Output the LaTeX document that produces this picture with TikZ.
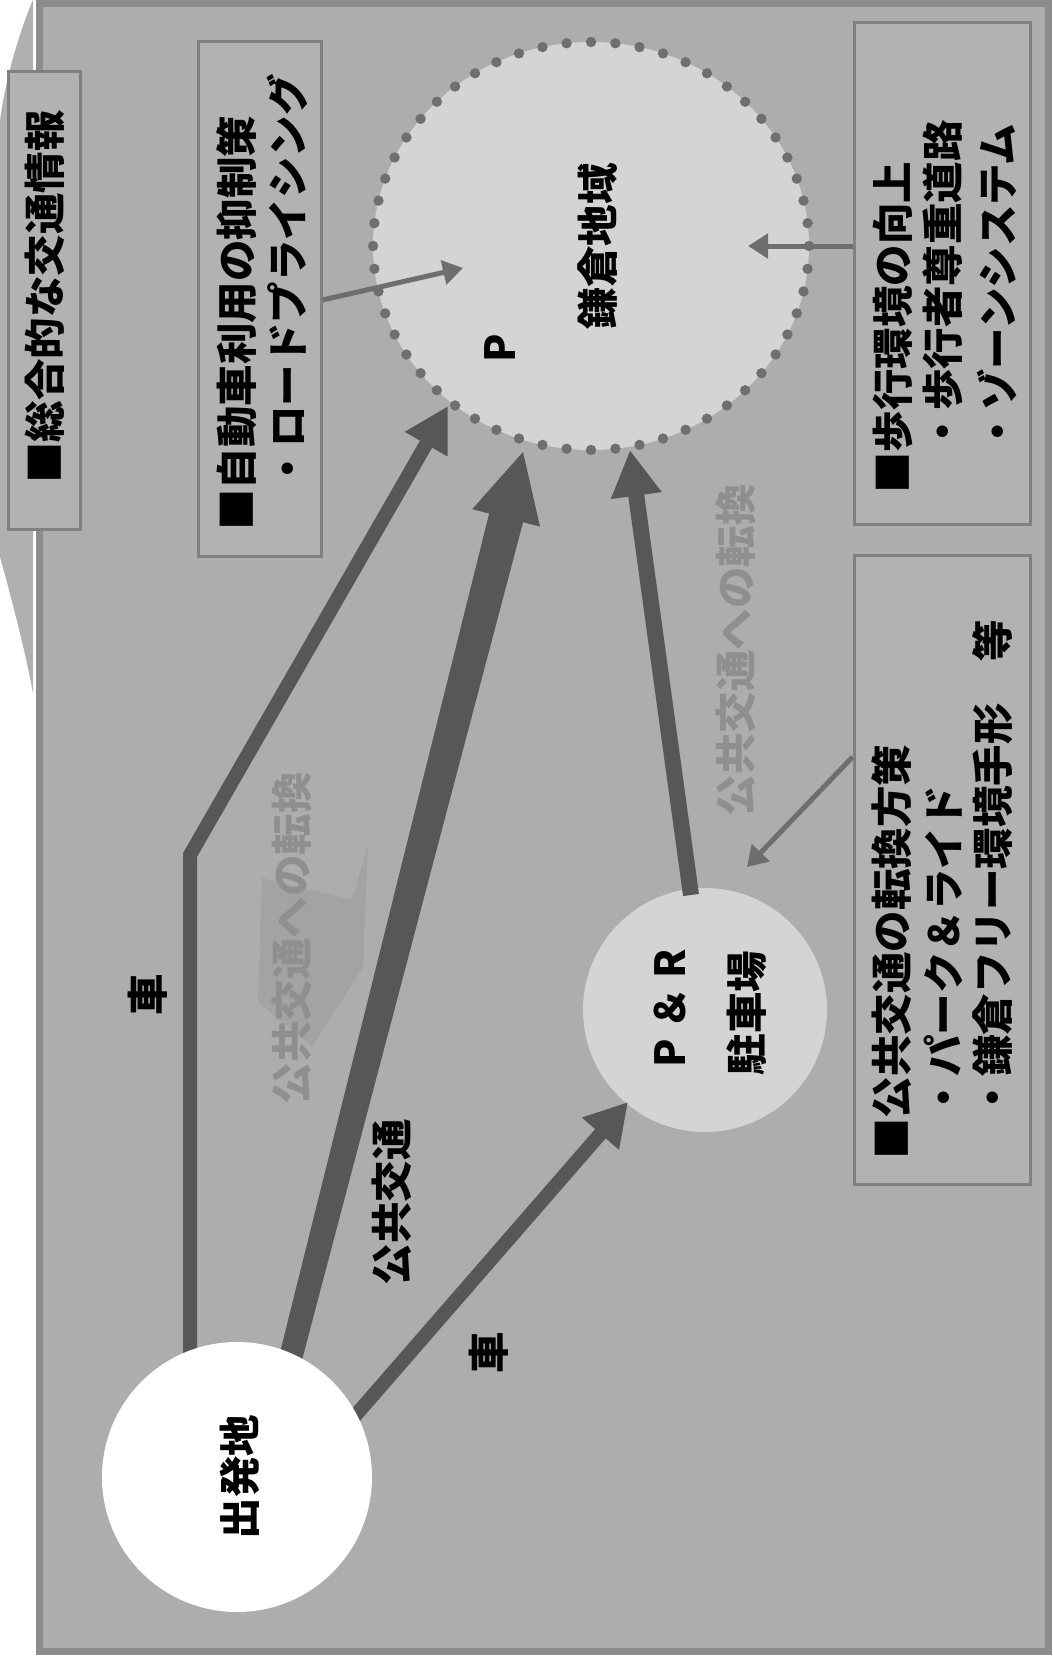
\documentclass[tikz,border=0pt]{standalone}
\usepackage{fontspec}
\setmainfont{Noto Sans CJK JP}
\usetikzlibrary{arrows.meta,calc,shapes.geometric}
\definecolor{bgc}{HTML}{ADADAD}
\definecolor{framec}{HTML}{8C8C8C}
\definecolor{boxfill}{HTML}{B2B2B2}
\definecolor{boxline}{HTML}{808080}
\definecolor{ellc}{HTML}{D4D4D4}
\definecolor{dotc}{HTML}{6F6F6F}
\definecolor{arrc}{HTML}{575757}
\definecolor{thinc}{HTML}{6E6E6E}
\definecolor{graytxt}{HTML}{8F8F8F}
\definecolor{artc}{HTML}{A3A3A3}
\definecolor{stripc}{HTML}{B0B0B0}
\begin{document}
\begin{tikzpicture}[x=1pt,y=-1pt,
  lbl/.style={rotate=90,inner sep=0pt,font=\fontsize{41.5pt}{50pt}\selectfont\bfseries},
  glbl/.style={lbl,text=graytxt},
  boxst/.style={draw=boxline,fill=boxfill,line width=3pt,inner sep=0pt,rectangle},
  thick arrow/.style={draw=arrc,line join=miter},
  thin arrow/.style={draw=thinc,line width=5pt,-{Triangle[length=20pt,width=24pt]}},
]
\useasboundingbox (0,0) rectangle (1052,1659);
\fill[white] (0,0) rectangle (1052,1659);
% artifact strip at left
\fill[stripc] (33,0) .. controls (20,30) and (5,80) .. (0,121) -- (0,557) .. controls (12,600) and (25,650) .. (33,693) -- cycle;
% frame
\draw[framec,fill=bgc,line width=7pt] (39.5,3.5) rectangle (1048.5,1651.5);
% artifact polygon
\fill[artc] (368,845) -- (363,967) -- (312,1047) -- (258,1002) -- (262,878) -- (352,900) -- cycle;

% boxes
\node[boxst,minimum width=72pt,minimum height=457pt] (b1) at (44,300.5) {};
\node[boxst,minimum width=123pt,minimum height=514pt] (b2) at (259.5,299) {};
\node[boxst,minimum width=176pt,minimum height=501pt] (b3) at (942,273.5) {};
\node[boxst,minimum width=176pt,minimum height=629pt] (b4) at (942,869.5) {};

% regions
\node[ellipse,fill=ellc,minimum width=436pt,minimum height=408pt,inner sep=0pt] (kama) at (591,246) {};
\foreach \i in {0,...,55}
  \fill[dotc] ($(kama.center)+({218*cos(\i*6.428571)},{204*sin(\i*6.428571)})$) circle (5.2);
\node[circle,fill=ellc,minimum size=244pt,inner sep=0pt] (pr) at (705,1010) {};

% gray labels
\node[glbl] (g1) at (292,938) {公共交通への転換};
\node[glbl] (g2) at (736,650) {公共交通への転換};

% thick arrows
\coordinate (a1) at (190,1370);
\coordinate (a2) at (190,855);
\coordinate (at) at (448,406);
\draw[thick arrow,line width=14pt,-{Triangle[length=44pt,width=46pt]}] (a1) -- (a2) -- (at);

\coordinate (bs) at (288,1368);
\coordinate (bt) at (523,452);
\coordinate (bh) at ($(bt)!68pt!(bs)$);
\fill[arrc] ($(bs)!11.5pt!90:(bt)$) -- ($(bh)!17.5pt!-90:(bs)$) -- ($(bh)!35pt!-90:(bs)$) -- (bt) -- ($(bh)!35pt!90:(bs)$) -- ($(bh)!17.5pt!90:(bs)$) -- ($(bs)!11.5pt!-90:(bt)$) -- cycle;

\coordinate (cs) at (348,1424);
\coordinate (ct) at (628,1102);
\draw[thick arrow,line width=14pt,-{Triangle[length=42pt,width=46pt]}] (cs) -- (ct);

\coordinate (ds) at (691,895);
\coordinate (dt) at (630,450);
\draw[thick arrow,line width=16pt,-{Triangle[length=46pt,width=48pt]}] (ds) -- (dt);

% thin arrows
\coordinate (et) at (463,268);
\draw[thin arrow] (b2.east |- 0,300) -- (et);
\coordinate (ft) at (748,246);
\draw[thin arrow] (b3.west |- 0,246) -- (ft);
\coordinate (gt) at (747,867);
\draw[thin arrow] (b4.west |- 0,757) -- (gt);

% origin
\node[circle,fill=white,minimum size=270pt,inner sep=0pt] (org) at (237,1477) {};

% texts
\node[lbl] (t1) at (45,297) {■総合的な交通情報};
\node[lbl,anchor=west] (t2a) at (237,531) {■自動車利用の抑制策};
\node[lbl,anchor=west] (t2b) at (287,531) {　・ロードプライシング};
\node[lbl,anchor=west] (t3a) at (893,494) {■歩行環境の向上};
\node[lbl,anchor=west] (t3b) at (943,494) {　・歩行者尊重道路};
\node[lbl,anchor=west] (t3c) at (997,494) {　・ゾーンシステム};
\node[lbl,anchor=west] (t4a) at (892,1160) {■公共交通の転換方策};
\node[lbl,anchor=west] (t4b) at (943,1160) {　・パーク＆ライド};
\node[lbl,anchor=west] (t4c) at (993,1160) {　・鎌倉フリー環境手形　等};

\node[lbl] (kt) at (598,246) {鎌倉地域};
\node[lbl] (kp) at (500,348) {P};
\node[lbl] (prt1) at (670,1008) {P ＆ R};
\node[lbl] (prt2) at (747,1013) {駐車場};
\node[lbl] (ot) at (240,1477) {出発地};

\node[lbl] (l1) at (148,995) {車};
\node[lbl] (l2) at (392,1202) {公共交通};
\node[lbl] (l3) at (489,1353) {車};
\end{tikzpicture}
\end{document}
